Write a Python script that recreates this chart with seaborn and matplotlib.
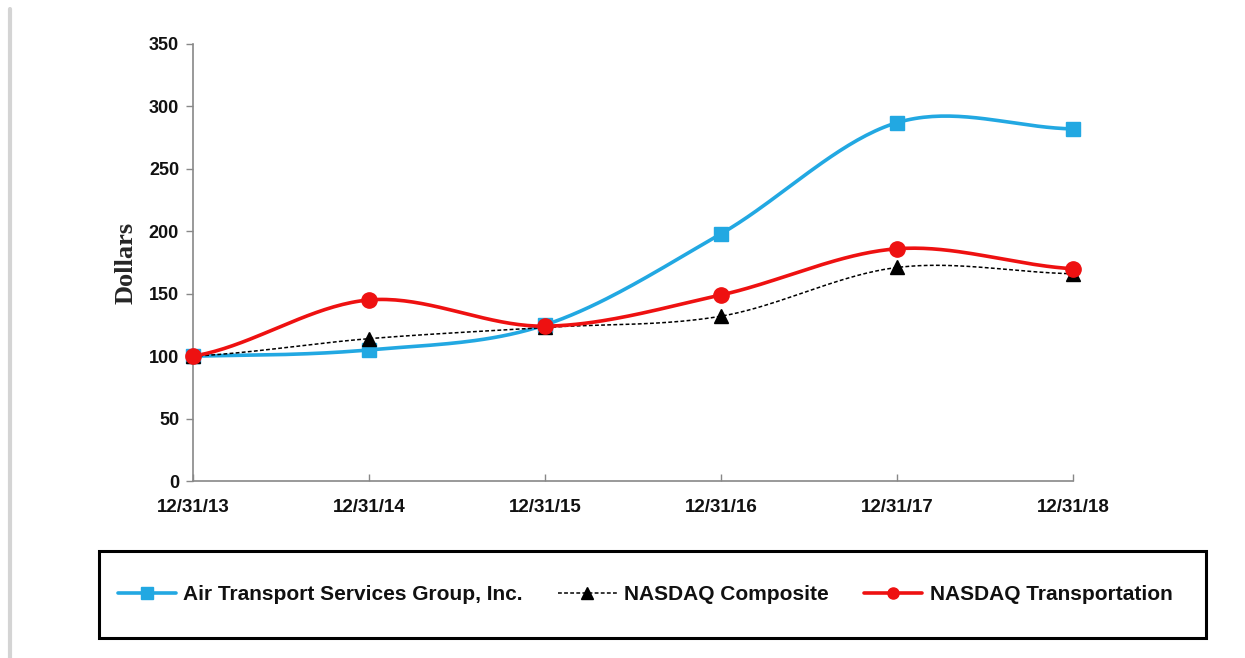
import numpy as np
import pandas as pd
import matplotlib
matplotlib.use("Agg")
import matplotlib.pyplot as plt
import seaborn as sns
from matplotlib.lines import Line2D
from matplotlib.patches import Rectangle

dates = ["12/31/13", "12/31/14", "12/31/15", "12/31/16", "12/31/17", "12/31/18"]
atsg = [100, 105, 125, 198, 287, 282]
nasdaq_comp = [100, 114, 123, 132, 171, 166]
nasdaq_trans = [100, 145, 124, 149, 186, 170]

series_names = ["Air Transport Services Group, Inc.", "NASDAQ Composite", "NASDAQ Transportation"]
colors = ["#22A8E2", "#000000", "#EE1111"]


def smooth(values, n=40):
    # Excel-style smoothed line (Catmull-Rom through the data points)
    p = np.asarray(values, dtype=float)
    p = np.concatenate([[p[0]], p, [p[-1]]])
    xs, ys = [], []
    for i in range(1, len(p) - 2):
        t = np.linspace(0, 1, n, endpoint=False)
        p0, p1, p2, p3 = p[i - 1], p[i], p[i + 1], p[i + 2]
        y = 0.5 * ((2 * p1) + (-p0 + p2) * t + (2 * p0 - 5 * p1 + 4 * p2 - p3) * t ** 2
                   + (-p0 + 3 * p1 - 3 * p2 + p3) * t ** 3)
        xs.extend(i - 1 + t)
        ys.extend(y)
    xs.append(len(values) - 1)
    ys.append(values[-1])
    return np.array(xs), np.array(ys)


sns.set_style("white")
plt.rcParams["font.family"] = ["Liberation Sans", "DejaVu Sans"]

fig = plt.figure(figsize=(12.45, 6.58), dpi=100)
ax = fig.add_axes([193 / 1245, 1 - 481 / 658, 880 / 1245, 437 / 658])

styles = [
    dict(lw=2.6, ls="-", marker="s", ms=10),
    dict(lw=1.1, ls=(0, (2.5, 1.5)), marker="^", ms=10),
    dict(lw=2.6, ls="-", marker="o", ms=11),
]
xpos = np.arange(len(dates))
for vals, col, st in zip([atsg, nasdaq_comp, nasdaq_trans], colors, styles):
    sx, sy = smooth(vals)
    sns.lineplot(x=sx, y=sy, sort=False, estimator=None, color=col,
                 linewidth=st["lw"], linestyle=st["ls"], ax=ax)
    ax.plot(xpos, vals, linestyle="none", marker=st["marker"], markersize=st["ms"],
            color=col, markeredgecolor=col, clip_on=False, zorder=3)

ax.set_xlim(0, 5)
ax.set_ylim(0, 350)
ax.set_yticks(range(0, 351, 50))
ax.set_xticks(xpos)
ax.set_xticklabels(dates)
for lab in ax.get_yticklabels():
    lab.set_fontweight("bold")
    lab.set_fontsize(13)
    lab.set_color("#111111")
for lab in ax.get_xticklabels():
    lab.set_fontweight("bold")
    lab.set_fontsize(13.5)
    lab.set_color("#111111")

for side in ["top", "right"]:
    ax.spines[side].set_visible(False)
for side in ["left", "bottom"]:
    ax.spines[side].set_color("#888888")
    ax.spines[side].set_linewidth(1.2)
ax.tick_params(axis="y", direction="out", length=5, width=1, color="#888888", pad=5, left=True)
ax.tick_params(axis="x", direction="in", length=5, width=1, color="#888888", pad=13, bottom=True)

ax.set_ylabel("Dollars", fontfamily="Liberation Serif", fontweight="bold", fontsize=19, labelpad=8)

# legend box
fig.add_artist(Rectangle((99 / 1245, 1 - 638 / 658), 1107 / 1245, 87 / 658,
                         transform=fig.transFigure, fill=False, edgecolor="black", linewidth=2.2))
handles = []
for name, col, st in zip(series_names, colors, styles):
    handles.append(Line2D([0], [0], color=col, lw=st["lw"], ls=st["ls"], marker=st["marker"],
                          markersize=8, markeredgecolor=col, label=name))
leg = fig.legend(handles=handles, loc="center", bbox_to_anchor=(645 / 1245, 1 - 595 / 658),
                 ncol=3, frameon=False, handlelength=2.8, handletextpad=0.35, columnspacing=1.7,
                 prop={"weight": "bold", "size": 15})
for t in leg.get_texts():
    t.set_color("#111111")

# left page border
fig.add_artist(Line2D([10 / 1245, 10 / 1245], [0, 1 - 9 / 658], transform=fig.transFigure,
                      color="#d4d4d4", linewidth=3))

fig.savefig("out.png", dpi=100)
